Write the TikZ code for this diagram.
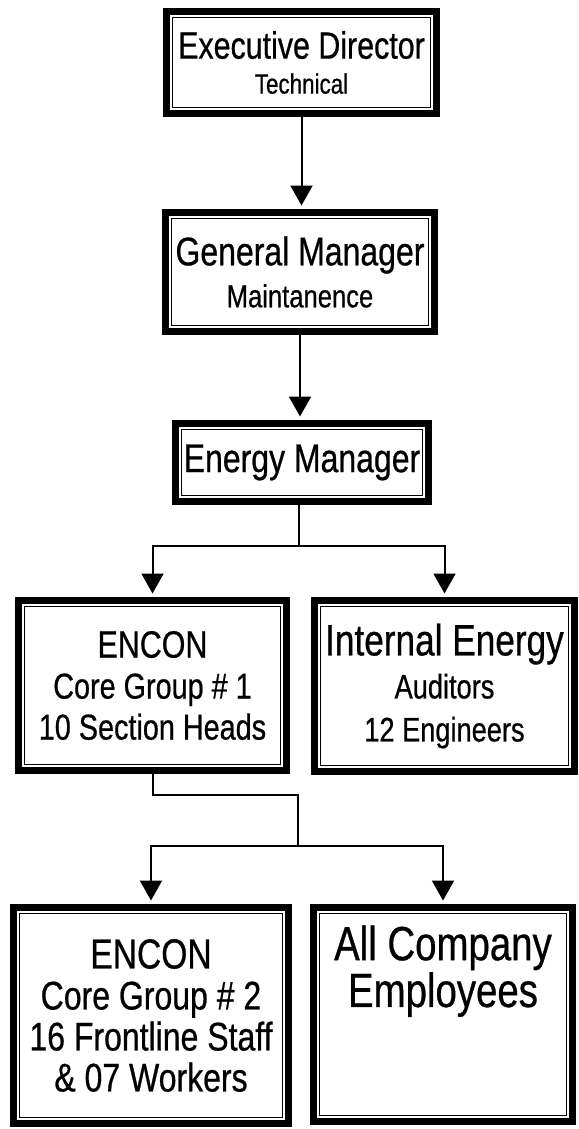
\documentclass[tikz,border=0pt]{standalone}
\usepackage{fontspec}
\setmainfont{Liberation Sans}[FakeStretch=0.8,FakeBold=0.6]
\usetikzlibrary{arrows.meta,positioning}

\newcommand\linesize[2]{\fontsize{#1}{#2}\selectfont}

\tikzset{
  orgbox/.style={draw,line width=3.5pt,inner sep=0pt,align=center,
    path picture={\draw[line width=.6pt]
      ([shift={(2.9pt,-2.9pt)}]path picture bounding box.north west) rectangle
      ([shift={(-2.9pt,2.9pt)}]path picture bounding box.south east);}},
  link/.style={line width=1pt},
  down/.style={link,-{Triangle[length=10pt,width=11pt]},shorten >=1.75pt}
}

\begin{document}
\begin{tikzpicture}[x=0.5pt,y=-0.5pt]
\useasboundingbox (0,0) rectangle (578,1129);
\node[orgbox,minimum width=135pt,minimum height=51pt,font=\linesize{19}{17.5}] (exec) at (301.5,62.5)
  {Executive Director\\{\linesize{14}{17.5}Technical}};
\node[orgbox,minimum width=134.5pt,minimum height=59.5pt,font=\linesize{20}{21}] (gm) at (300,272)
  {General Manager\\{\linesize{16}{21}Maintanence}};
\node[orgbox,minimum width=126.5pt,minimum height=39pt,font=\linesize{20}{22}] (em) at (302,462.5)
  {Energy Manager};
\node[orgbox,minimum width=134pt,minimum height=85pt,font=\linesize{18}{20.5}] (enc1) at (152.5,685.5)
  {{\linesize{19}{20.5}ENCON}\\Core Group \# 1\\10 Section Heads};
\node[orgbox,minimum width=130pt,minimum height=85.5pt,font=\linesize{17}{21.5}] (auditors) at (444.5,686)
  {{\linesize{22}{21.5}Internal Energy}\\Auditors\\12 Engineers};
\node[orgbox,minimum width=137.5pt,minimum height=108pt,font=\linesize{20}{20.5}] (enc2) at (151,1015.5)
  {{\linesize{21}{20.5}ENCON}\\Core Group \# 2\\16 Frontline Staff\\\& 07 Workers};
\node[orgbox,minimum width=129.5pt,minimum height=107pt,font=\linesize{24}{21}] (staff) at (443,1014.5)
  {All Company\\Employees\\\strut\\\strut};

\coordinate (emfork) at (299,546);
\coordinate (encbend) at (298,795);
\coordinate (encfork) at (298,846);

\draw[down] (exec.south) -- (gm.north -| exec.south);
\draw[down] (gm.south) -- (em.north -| gm.south);
\draw[link] (em.south -| emfork) -- (emfork);
\draw[down] (emfork) -| (enc1.north);
\draw[down] (emfork) -| (auditors.north);
\draw[link] (enc1.south) |- (encbend) -- (encfork);
\draw[down] (encfork) -| (enc2.north);
\draw[down] (encfork) -| (staff.north);
\end{tikzpicture}
\end{document}
